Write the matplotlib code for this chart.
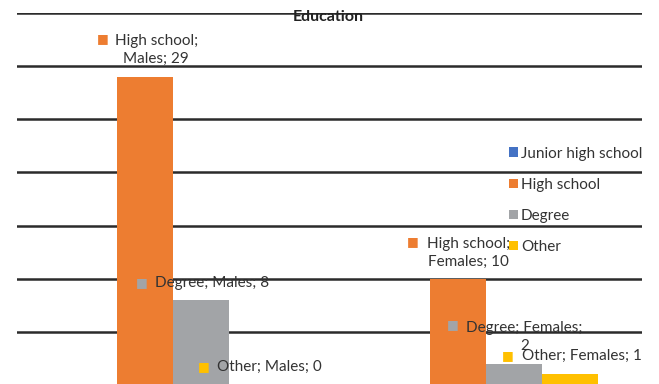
import matplotlib
matplotlib.use("Agg")
import numpy as np
from matplotlib import pyplot as plt

plt.rcParams['font.family'] = ['Lato', 'DejaVu Sans']

# data
categories = ['Males', 'Females']
series = ['Junior high school', 'High school', 'Degree', 'Other']
junior_high = [0, 0]
high_school = [29, 10]
degree = [8, 2]
other = [0, 1]
colors = ['#4472C4', '#ED7D31', '#A2A4A7', '#FFC000']

values = [junior_high, high_school, degree, other]

fig = plt.figure(figsize=(6.59, 3.84), dpi=100)
# the chart is cropped: the zero line sits right at the bottom edge
ax = fig.add_axes([17 / 659, -1 / 384, 625 / 659, 372 / 384])

x = np.arange(len(categories))
width = 0.179
offsets = (np.arange(len(series)) - 1.5) * width
for i, name in enumerate(series):
    ax.bar(x + offsets[i], values[i], width, color=colors[i], label=name, zorder=3)

ax.set_xlim(-0.5, 1.5)
ax.set_ylim(0, 35)
ax.set_yticks(np.arange(0, 36, 5))
ax.set_xticks(x)
ax.set_xticklabels([])
ax.yaxis.grid(True, color='#2b2b2b', linewidth=1.8, zorder=0)
ax.tick_params(length=0, labelleft=False, labelbottom=False)
for s in ax.spines.values():
    s.set_visible(False)

ax.annotate('Education', (0.5, 1), xycoords='axes fraction', xytext=(-1, -4),
            textcoords='offset pixels', ha='center', va='center',
            fontsize=11.5, fontweight='bold', color='#222222')

# data labels: (series, group, text, text offset px, ha, square offset px)
labels = [
    (1, 0, 'High school;\nMales; 29', (11, 27), 'center', (-43, 38)),
    (2, 0, 'Degree; Males; 8', (-46, 17), 'left', (-59, 17)),
    (3, 0, 'Other; Males; 0', (-40, 18), 'left', (-53, 18)),
    (1, 1, 'High school;\nFemales; 10', (11, 26), 'center', (-45, 37)),
    (2, 1, 'Degree; Females;\n2', (11, 27), 'center', (-61, 39)),
    (3, 1, 'Other; Females; 1', (-48, 18), 'left', (-62, 19)),
]
for si, gi, txt, toff, ha, soff in labels:
    xy = (x[gi] + offsets[si], values[si][gi])
    ax.annotate(txt, xy, xytext=toff, textcoords='offset pixels', ha=ha, va='center',
                fontsize=11, color='#333333', linespacing=1.4, zorder=5,
                annotation_clip=False)
    ax.annotate('\u25A0', xy, xytext=soff, textcoords='offset pixels', ha='center',
                va='center', fontsize=9, color=colors[si], family='DejaVu Sans',
                zorder=5, annotation_clip=False)

leg = ax.legend(loc='upper left', bbox_to_anchor=(501 / 659, 1 - 139 / 384),
                bbox_transform=fig.transFigure, frameon=False, fontsize=11,
                handlelength=0.6, handleheight=0.6, handletextpad=0.2,
                labelspacing=1.12, borderpad=0, labelcolor='#333333')
leg.set_zorder(10)

fig.savefig('out.png', dpi=100)
